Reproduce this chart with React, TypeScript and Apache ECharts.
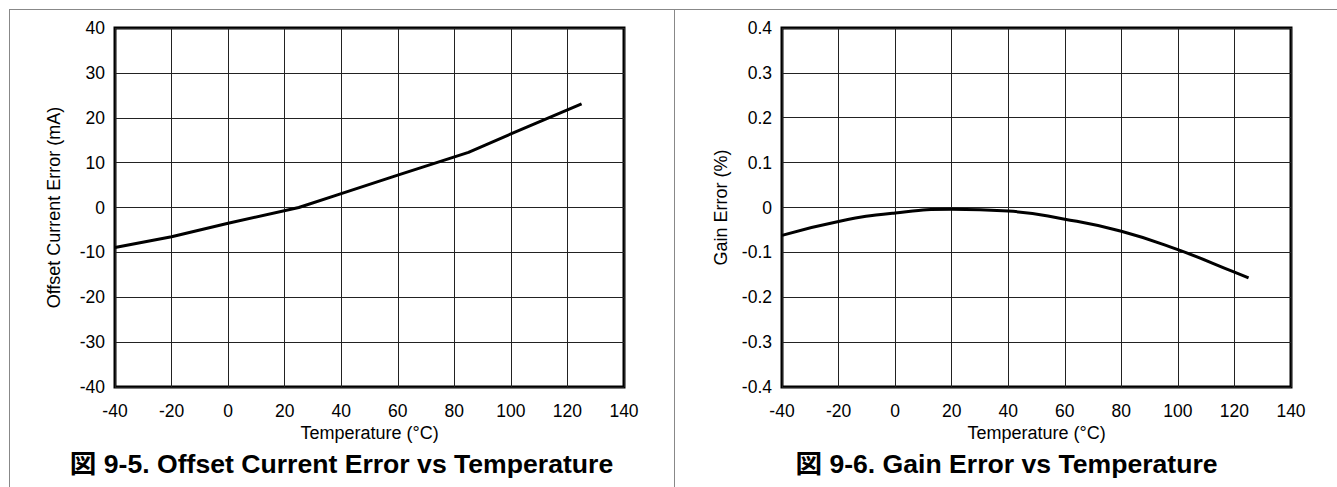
import React, { useEffect, useRef } from "react";
import * as echarts from "echarts";

// ---- data ----
const xTicks = [-40, -20, 0, 20, 40, 60, 80, 100, 120, 140];

const tempsOffset = [-40, -20, 0, 25, 40, 60, 85, 100, 125];
const offsetError = [-8.9, -6.5, -3.5, 0.0, 3.1, 7.2, 12.3, 16.4, 23.1];

const tempsGain = [-40, -20, 0, 20, 40, 60, 80, 100, 120, 125];
const gainError = [-0.062, -0.031, -0.012, -0.004, -0.008, -0.026, -0.053, -0.094, -0.144, -0.157];

const title1 = "図 9-5. Offset Current Error vs Temperature";
const title2 = "図 9-6. Gain Error vs Temperature";
const xName = "Temperature (°C)";
const yName1 = "Offset Current Error (mA)";
const yName2 = "Gain Error (%)";

const FONT = "'Liberation Sans', Arial, 'Noto Sans CJK JP', sans-serif";

export default function App() {
  const ref = useRef<HTMLDivElement>(null);

  useEffect(() => {
    if (!ref.current) return;
    const chart = echarts.init(ref.current, undefined, { renderer: "svg" });

    const axisLabel = { color: "#000", fontSize: 17.5, fontFamily: FONT };
    const nameStyle = { color: "#000", fontSize: 18, fontFamily: FONT };
    const splitLine = { show: true, lineStyle: { color: "#222", width: 1 } };

    const xAxisBase = (gridIndex: number) => ({
      type: "value",
      gridIndex,
      min: xTicks[0],
      max: xTicks[xTicks.length - 1],
      interval: 20,
      axisLine: { show: false },
      axisTick: { show: false },
      axisLabel: { ...axisLabel, margin: 15 },
      splitLine,
      name: xName,
      nameLocation: "middle",
      nameGap: 31,
      nameTextStyle: nameStyle,
    });

    const option: any = {
      animation: false,
      backgroundColor: "#fff",
      grid: [
        { left: 115, top: 28, width: 509, height: 359, show: true, borderColor: "#000", borderWidth: 3, backgroundColor: "transparent" },
        { left: 782, top: 28, width: 509, height: 359, show: true, borderColor: "#000", borderWidth: 3, backgroundColor: "transparent" },
      ],
      xAxis: [xAxisBase(0), xAxisBase(1)],
      yAxis: [
        {
          type: "value",
          gridIndex: 0,
          min: -40,
          max: 40,
          interval: 10,
          axisLine: { show: false },
          axisTick: { show: false },
          axisLabel: { ...axisLabel, margin: 10 },
          splitLine,
          name: yName1,
          nameLocation: "middle",
          nameGap: 52,
          nameTextStyle: nameStyle,
        },
        {
          type: "value",
          gridIndex: 1,
          min: -0.4,
          max: 0.4,
          interval: 0.1,
          axisLine: { show: false },
          axisTick: { show: false },
          axisLabel: {
            ...axisLabel,
            margin: 10,
            formatter: (v: number) => String(Math.round(v * 10) / 10),
          },
          splitLine,
          name: yName2,
          nameLocation: "middle",
          nameGap: 52,
          nameTextStyle: nameStyle,
        },
      ],
      series: [
        {
          type: "line",
          xAxisIndex: 0,
          yAxisIndex: 0,
          data: tempsOffset.map((t, i) => [t, offsetError[i]]),
          showSymbol: false,
          lineStyle: { color: "#000", width: 3 },
          z: 5,
        },
        {
          type: "line",
          xAxisIndex: 1,
          yAxisIndex: 1,
          data: tempsGain.map((t, i) => [t, gainError[i]]),
          smooth: 0.5,
          showSymbol: false,
          lineStyle: { color: "#000", width: 3 },
          z: 5,
        },
      ],
      graphic: [
        { type: "line", shape: { x1: 9, y1: 9.5, x2: 1337, y2: 9.5 }, style: { stroke: "#888", lineWidth: 1 } },
        { type: "line", shape: { x1: 9.5, y1: 9, x2: 9.5, y2: 487 }, style: { stroke: "#888", lineWidth: 1 } },
        { type: "line", shape: { x1: 674.5, y1: 9, x2: 674.5, y2: 487 }, style: { stroke: "#888", lineWidth: 1 } },
        {
          type: "text",
          x: 341.5,
          y: 464,
          style: {
            text: title1,
            fill: "#000",
            fontSize: 26.6,
            fontWeight: "bold",
            fontFamily: FONT,
            textAlign: "center",
            textVerticalAlign: "middle",
          },
        },
        {
          type: "text",
          x: 1006.5,
          y: 464,
          style: {
            text: title2,
            fill: "#000",
            fontSize: 26.6,
            fontWeight: "bold",
            fontFamily: FONT,
            textAlign: "center",
            textVerticalAlign: "middle",
          },
        },
      ],
    };

    chart.setOption(option);
    return () => chart.dispose();
  }, []);

  return (
    <div
      ref={ref}
      style={{ position: "fixed", left: 0, top: 0, width: 1337, height: 487, background: "#fff" }}
    />
  );
}
